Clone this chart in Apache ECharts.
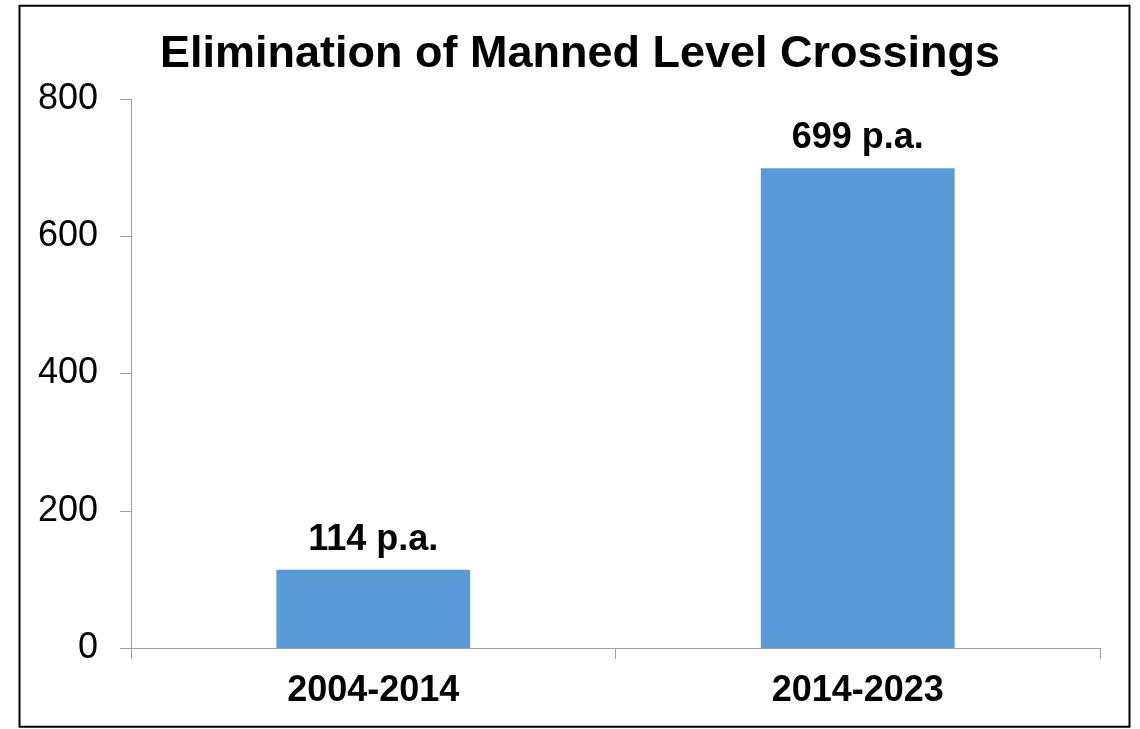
<!DOCTYPE html>
<html>
<head>
<meta charset="utf-8">
<script src="https://cdn.jsdelivr.net/npm/echarts@6/dist/echarts.min.js"></script>
<style>
html,body{margin:0;padding:0;background:#fff;}
#chart{width:1140px;height:729px;}
</style>
</head>
<body>
<div id="chart"></div>
<script>
const titleText = 'Elimination of Manned Level Crossings';
const categories = ['2004-2014', '2014-2023'];
const values = [114, 699];
const labelSuffix = ' p.a.';
const yTicks = [0, 200, 400, 600, 800];

const FONT = '"Liberation Sans", Arial, Helvetica, sans-serif';
const chart = echarts.init(document.getElementById('chart'), null, {renderer: 'canvas'});
chart.setOption({
  backgroundColor: '#ffffff',
  animation: false,
  title: {
    text: titleText,
    left: 575,
    top: 27,
    textAlign: 'center',
    textStyle: {fontFamily: FONT, fontSize: 45, fontWeight: 'bold', color: '#000'}
  },
  graphic: [{
    type: 'rect',
    shape: {x: 19.5, y: 5.7, width: 1110, height: 721},
    style: {fill: 'none', stroke: '#000', lineWidth: 2},
    silent: true
  }],
  grid: {left: 131, right: 40, top: 99, bottom: 81, containLabel: false},
  xAxis: {
    type: 'category',
    data: categories,
    boundaryGap: true,
    axisLine: {show: true, lineStyle: {color: '#A0A0A0', width: 1}},
    axisTick: {show: true, length: 11, lineStyle: {color: '#A0A0A0'}},
    axisLabel: {margin: 25, fontFamily: FONT, fontSize: 36, fontWeight: 'bold', color: '#000'},
    splitLine: {show: false}
  },
  yAxis: {
    type: 'value',
    min: yTicks[0],
    max: yTicks[yTicks.length - 1],
    interval: yTicks[1] - yTicks[0],
    axisLine: {show: true, lineStyle: {color: '#A0A0A0', width: 1}},
    axisTick: {show: true, length: 11, lineStyle: {color: '#A0A0A0'}},
    axisLabel: {margin: 33, fontFamily: FONT, fontSize: 36, color: '#000'},
    splitLine: {show: false}
  },
  series: [{
    type: 'bar',
    data: values,
    barWidth: '40%',
    itemStyle: {color: '#5B9BD5'},
    label: {
      show: true,
      position: 'top',
      distance: 12,
      formatter: p => p.value + labelSuffix,
      fontFamily: FONT, fontSize: 36, fontWeight: 'bold', color: '#000'
    }
  }]
});
</script>
</body>
</html>
